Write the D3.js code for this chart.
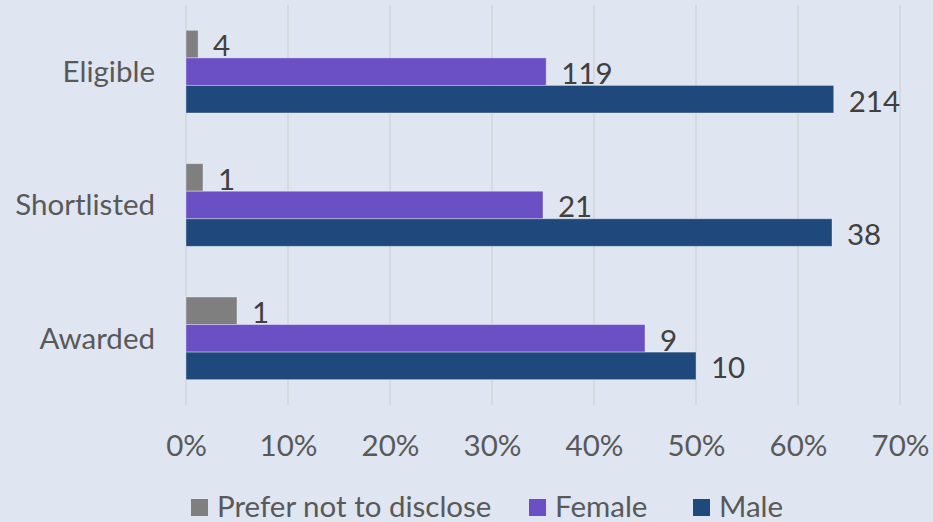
<!DOCTYPE html>
<html><head><meta charset="utf-8">
<script src="https://cdn.jsdelivr.net/npm/d3@7"></script>
<style>
html,body{margin:0;padding:0;background:#dfe6f1;}
svg{display:block;}
svg text{font-family:Lato,"Open Sans",sans-serif;}
</style></head><body>
<svg id="c" width="933" height="522"></svg>
<script>
const categories = ["Eligible", "Shortlisted", "Awarded"];
const seriesNames = ["Prefer not to disclose", "Female", "Male"];
const preferNot = [4, 1, 1];
const female = [119, 21, 9];
const male = [214, 38, 10];
const xTicks = [0, 0.1, 0.2, 0.3, 0.4, 0.5, 0.6, 0.7];
const colors = ["#7f7f7f", "#6a50c4", "#1f487c"];

const counts = [preferNot, female, male];
const totals = categories.map((c, i) => counts.reduce((s, arr) => s + arr[i], 0));

const FS = 29.5;
const svg = d3.select("#c");
const x = d3.scaleLinear().domain([0, 0.7]).range([186, 900]);
const y = d3.scaleBand().domain(categories).range([5, 405]).paddingInner(0).paddingOuter(0);
const inner = d3.scaleBand().domain(seriesNames).range([0, y.bandwidth()]).paddingOuter(0.92).paddingInner(0);

// gridlines
svg.append("g").selectAll("line").data(xTicks).join("line")
  .attr("x1", d => x(d)).attr("x2", d => x(d))
  .attr("y1", 5).attr("y2", 405)
  .attr("stroke", "#d3d6da").attr("stroke-width", 1.5);

// x axis labels
const ax = svg.append("g").attr("transform", "translate(0,446)")
  .call(d3.axisBottom(x).tickValues(xTicks).tickFormat(d3.format(".0%")).tickSize(0).tickPadding(0))
  .attr("font-family", null).attr("font-size", null);
ax.select(".domain").remove();
ax.selectAll("text").attr("font-size", FS).attr("fill", "#595959").attr("dy", "0.35em");

// y axis labels
const ay = svg.append("g").attr("transform", "translate(155,0)")
  .call(d3.axisLeft(y).tickSize(0).tickPadding(0))
  .attr("font-family", null).attr("font-size", null);
ay.select(".domain").remove();
ay.selectAll("text").attr("font-size", FS).attr("fill", "#595959").attr("dy", "0.35em");

// bars
const rows = [];
categories.forEach((c, i) => {
  seriesNames.forEach((s, j) => {
    rows.push({cat: c, series: s, j, count: counts[j][i], pct: counts[j][i] / totals[i]});
  });
});

svg.append("g").selectAll("rect").data(rows).join("rect")
  .attr("x", x(0))
  .attr("y", d => y(d.cat) + inner(d.series))
  .attr("width", d => x(d.pct) - x(0))
  .attr("height", inner.bandwidth())
  .attr("fill", d => colors[d.j])
  .attr("stroke", "rgba(255,255,255,0.35)").attr("stroke-width", 1);

svg.append("g").selectAll("text").data(rows).join("text")
  .attr("x", d => x(d.pct) + 15)
  .attr("y", d => y(d.cat) + inner(d.series) + inner.bandwidth() / 2 + 2)
  .attr("dy", "0.35em")
  .attr("font-size", FS).attr("fill", "#404040")
  .text(d => d.count);

// legend
const lg = svg.append("g");
const legendX = [191, 529, 693];
seriesNames.forEach((s, j) => {
  lg.append("rect").attr("x", legendX[j]).attr("y", 499).attr("width", 17).attr("height", 17).attr("fill", colors[j]);
  lg.append("text").attr("x", legendX[j] + 26).attr("y", 507).attr("dy", "0.35em")
    .attr("font-size", FS).attr("fill", "#595959").text(s);
});
</script>
</body></html>
